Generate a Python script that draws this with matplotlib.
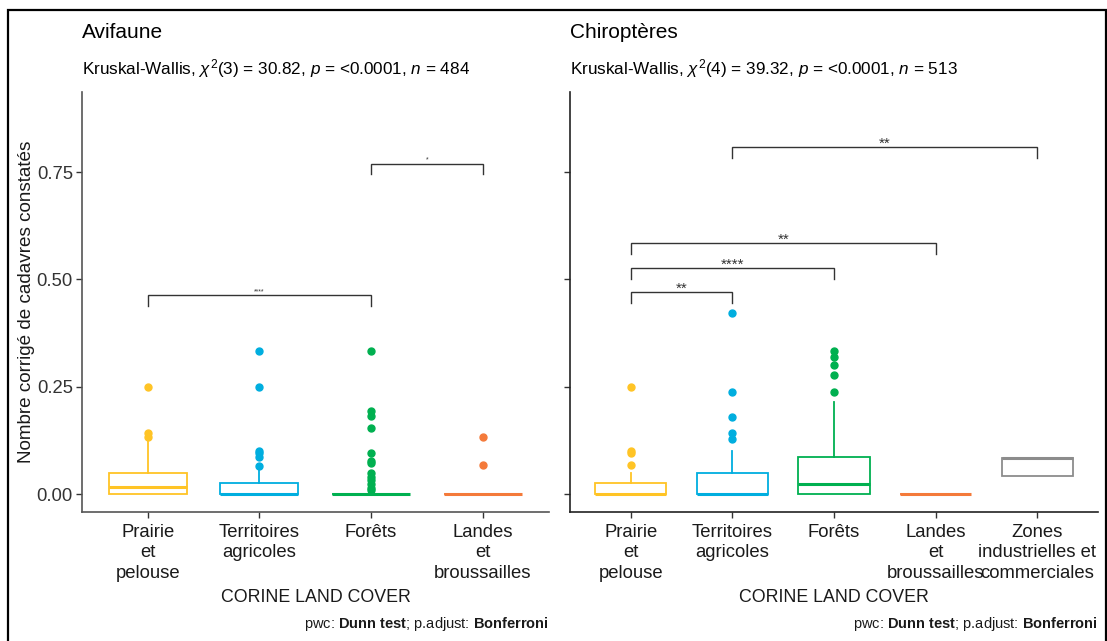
import matplotlib
matplotlib.use("Agg")
import matplotlib.pyplot as plt
from matplotlib.patches import Rectangle

plt.rcParams['font.family'] = ['Liberation Sans', 'DejaVu Sans']
plt.rcParams['mathtext.fontset'] = 'custom'
plt.rcParams['mathtext.rm'] = 'Liberation Sans'
plt.rcParams['mathtext.it'] = 'Liberation Sans:italic'
plt.rcParams['mathtext.bf'] = 'Liberation Sans:bold'

# ---------------- data ----------------
avi_cats = ["Prairie\net\npelouse", "Territoires\nagricoles", "Forêts", "Landes\net\nbroussailles"]
avi_q1 = [0, 0, 0, 0]
avi_med = [0.0167, 0, 0, 0]
avi_q3 = [0.05, 0.025, 0, 0]
avi_whislo = [0, 0, 0, 0]
avi_whishi = [0.125, 0.0625, 0, 0]
avi_fliers = [
    [0.1333, 0.1429, 0.25],
    [0.0652, 0.0870, 0.0952, 0.1, 0.25, 0.3333],
    [0.0091, 0.0133, 0.0227, 0.0333, 0.04, 0.05, 0.0714, 0.0769, 0.0952,
     0.1538, 0.1818, 0.1923, 0.3333],
    [0.0667, 0.1333],
]
avi_pairs = [(1, 3), (3, 4)]
avi_bracket_y = [0.464, 0.770]
avi_sig = ["****", "*"]

chi_cats = ["Prairie\net\npelouse", "Territoires\nagricoles", "Forêts",
            "Landes\net\nbroussailles", "Zones\nindustrielles et\ncommerciales"]
chi_q1 = [0, 0, 0, 0, 0.0417]
chi_med = [0, 0, 0.0238, 0, 0.0833]
chi_q3 = [0.025, 0.05, 0.0870, 0, 0.0833]
chi_whislo = [0, 0, 0, 0, 0.0417]
chi_whishi = [0.05, 0.1, 0.2143, 0, 0.0833]
chi_fliers = [
    [0.0667, 0.0952, 0.1, 0.25],
    [0.1282, 0.1429, 0.1786, 0.2381, 0.4211],
    [0.2381, 0.2778, 0.3, 0.3182, 0.3333],
    [],
    [],
]
chi_pairs = [(1, 2), (1, 3), (1, 4), (2, 5)]
chi_bracket_y = [0.470, 0.526, 0.585, 0.808]
chi_sig = ["**", "****", "**", "**"]

y_ticks = [0.0, 0.25, 0.50, 0.75]
y_ticklabels = ["0.00", "0.25", "0.50", "0.75"]

colors = ["#FFC425", "#00AEDF", "#00B050", "#F47A3A", "#8C8C8C"]

W, H = 1107, 641
fig = plt.figure(figsize=(W / 100, H / 100), dpi=100)

def px_axes(l, r, t, b):
    return fig.add_axes([l / W, 1 - b / H, (r - l) / W, (b - t) / H])

ax1 = px_axes(82, 549, 92, 512)
ax2 = px_axes(570, 1098, 92, 512)

TICK_FS = 13.3

def draw_panel(ax, cats, q1, med, q3, wlo, whi, fliers, pairs, by, sig,
               xlim, sig_size, spine_col, show_ylabels):
    n = len(cats)
    stats = []
    for i in range(n):
        stats.append(dict(med=med[i], q1=q1[i], q3=q3[i], whislo=wlo[i],
                          whishi=whi[i], fliers=fliers[i]))
    pos = list(range(1, n + 1))
    bp = ax.bxp(stats, positions=pos, widths=0.7, showcaps=False,
                patch_artist=True, manage_ticks=False)
    for i in range(n):
        c = colors[i]
        bp['boxes'][i].set(facecolor='white', edgecolor=c, linewidth=1.3)
        bp['medians'][i].set(color=c, linewidth=2.2)
        for w in bp['whiskers'][2 * i:2 * i + 2]:
            w.set(color=c, linewidth=1.3)
        bp['fliers'][i].set(marker='o', markersize=5, markerfacecolor=c,
                            markeredgecolor=c, linestyle='none')
    tip = 0.025
    for (a, b), yb, s in zip(pairs, by, sig):
        ax.plot([a, a, b, b], [yb - tip, yb, yb, yb - tip], color='#333333',
                linewidth=1.0, solid_joinstyle='miter')
        ax.text((a + b) / 2, yb + 0.008, s, ha='center', va='center',
                fontsize=sig_size, color='#333333')
    ax.set_xlim(*xlim)
    ax.set_ylim(-0.0419, 0.9366)
    ax.set_xticks(pos)
    ax.set_xticklabels(cats, fontsize=TICK_FS, color='#1a1a1a', linespacing=1.27)
    ax.set_yticks(y_ticks)
    if show_ylabels:
        ax.set_yticklabels(y_ticklabels, fontsize=TICK_FS, color='#333333')
    else:
        ax.set_yticklabels([])
    ax.tick_params(axis='y', length=4, width=1, color='#333333', pad=2.5)
    ax.tick_params(axis='x', length=4, width=1, color='#333333', pad=4.5)
    for sp in ['top', 'right']:
        ax.spines[sp].set_visible(False)
    for sp in ['left', 'bottom']:
        ax.spines[sp].set_color(spine_col)
        ax.spines[sp].set_linewidth(1.2)

draw_panel(ax1, avi_cats, avi_q1, avi_med, avi_q3, avi_whislo, avi_whishi,
           avi_fliers, avi_pairs, avi_bracket_y, avi_sig, (0.412, 4.594), 5,
           '#555555', True)
draw_panel(ax2, chi_cats, chi_q1, chi_med, chi_q3, chi_whislo, chi_whishi,
           chi_fliers, chi_pairs, chi_bracket_y, chi_sig, (0.4, 5.6), 11,
           '#222222', False)

# titles
fig.text(82 / W, 1 - 37.5 / H, "Avifaune", fontsize=15, va='baseline', ha='left')
fig.text(82 / W, 1 - 74 / H,
         r"Kruskal-Wallis, $\chi^2$(3) = 30.82, $\it{p}$ = <0.0001, $\it{n}$ = 484",
         fontsize=12.3, va='baseline', ha='left')
fig.text(570 / W, 1 - 37.5 / H, "Chiroptères", fontsize=15, va='baseline', ha='left')
fig.text(570 / W, 1 - 74 / H,
         r"Kruskal-Wallis, $\chi^2$(4) = 39.32, $\it{p}$ = <0.0001, $\it{n}$ = 513",
         fontsize=12.3, va='baseline', ha='left')

# axis titles
fig.text(27 / W, 1 - 302 / H, "Nombre corrigé de cadavres constatés", rotation=90,
         fontsize=13.6, ha='center', va='center', color='#1a1a1a')
fig.text(315.5 / W, 1 - 597 / H, "CORINE LAND COVER", fontsize=12.8,
         ha='center', va='center', color='#1a1a1a')
fig.text(834 / W, 1 - 597 / H, "CORINE LAND COVER", fontsize=12.8,
         ha='center', va='center', color='#1a1a1a')

# captions
cap = r"pwc: $\bf{Dunn\ test}$; p.adjust: $\bf{Bonferroni}$"
fig.text(549 / W, 1 - 628 / H, cap, fontsize=10.5, ha='right', va='baseline', color='#1a1a1a')
fig.text(1098 / W, 1 - 628 / H, cap, fontsize=10.5, ha='right', va='baseline', color='#1a1a1a')

# outer frame
fig.add_artist(Rectangle((8 / W, -0.02), (1106 - 8) / W, 1.02 - 10 / H,
                         transform=fig.transFigure, fill=False,
                         edgecolor='black', linewidth=1.6))

fig.savefig("out.png", dpi=100)
